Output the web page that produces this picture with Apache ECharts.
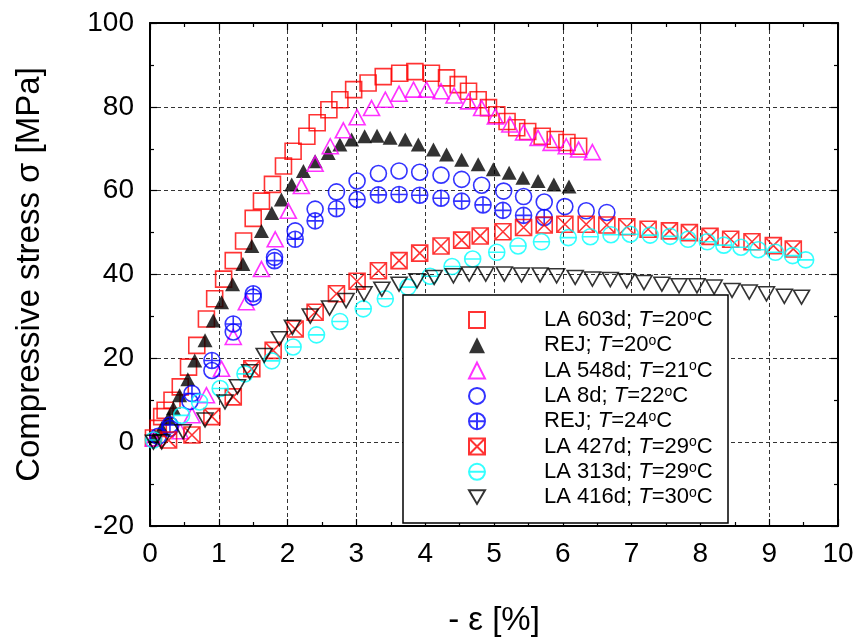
<!DOCTYPE html>
<html><head><meta charset="utf-8">
<script src="https://cdn.jsdelivr.net/npm/echarts@6/dist/echarts.min.js"></script>
<style>html,body{margin:0;padding:0;background:#fff}#c{width:857px;height:642px}</style>
</head><body><div id="c"></div>
<script>
// ---- data (strain -ε [%], stress σ [MPa]) ----
const la603x = [0.05,0.12,0.17,0.22,0.32,0.44,0.56,0.68,0.82,0.94,1.07,1.21,1.36,1.50,1.62,1.78,1.94,2.08,2.28,2.43,2.60,2.76,2.96,3.17,3.39,3.63,3.85,4.09,4.31,4.48,4.63,4.77,4.92,5.04,5.19,5.33,5.49,5.70,5.89,6.06,6.23];
const la603y = [1.0,3.3,6.1,7.6,10.0,13.2,17.9,23.1,29.4,34.2,38.9,43.3,48.0,53.4,57.5,61.5,65.9,69.4,73.0,76.2,79.3,81.7,84.1,85.7,87.2,88.0,88.4,88.0,86.9,85.3,83.7,81.7,79.8,78.1,76.5,75.0,74.1,73.0,72.2,71.5,70.6];

const rej20x = [0.07,0.17,0.27,0.34,0.43,0.55,0.65,0.80,0.92,1.04,1.20,1.35,1.48,1.62,1.77,1.91,2.06,2.23,2.40,2.59,2.76,2.93,3.12,3.30,3.49,3.71,3.90,4.12,4.31,4.53,4.77,4.99,5.22,5.42,5.64,5.87,6.09];
const rej20y = [1.4,3.3,5.7,8.1,11.2,15.0,19.5,24.3,29.0,33.4,37.7,42.5,46.8,50.4,54.7,57.9,61.5,64.7,67.0,69.0,71.0,72.2,73.0,73.1,72.6,72.2,71.0,69.8,68.6,67.4,66.3,65.1,64.3,63.1,62.3,61.5,61.0];

const la548x = [0.05,0.44,0.61,0.82,1.04,1.21,1.40,1.62,1.82,2.01,2.20,2.40,2.62,2.81,3.01,3.22,3.42,3.62,3.83,4.02,4.23,4.42,4.63,4.82,5.02,5.23,5.43,5.64,5.83,6.05,6.23,6.43];
const la548y = [0.9,2.6,6.4,11.2,17.5,25.1,33.4,41.3,48.4,55.2,61.1,66.4,70.6,74.4,77.5,79.7,81.7,83.1,84.1,84.1,83.7,82.7,81.3,79.7,77.7,75.8,73.9,72.6,71.4,70.6,69.8,69.2];

const la8x = [0.12,0.29,0.58,0.90,1.21,1.50,1.81,2.11,2.40,2.71,3.01,3.32,3.62,3.92,4.23,4.53,4.82,5.14,5.43,5.73,6.03,6.34,6.64];
const la8y = [1.4,3.3,9.7,17.1,26.3,34.6,44.1,50.4,55.6,59.7,62.3,64.1,64.7,64.4,63.7,62.7,61.3,59.9,58.6,57.3,56.2,55.2,54.8];

const rej24x = [0.29,0.61,0.90,1.21,1.50,1.81,2.11,2.40,2.71,3.01,3.32,3.62,3.92,4.23,4.53,4.84,5.13,5.43,5.73];
const rej24y = [4.1,11.6,19.5,28.2,35.4,43.3,48.4,52.8,55.7,57.9,59.0,59.1,58.9,58.2,57.5,56.6,55.3,54.1,53.6];

const la427x = [0.27,0.61,0.90,1.21,1.48,1.79,2.11,2.40,2.71,3.01,3.32,3.62,3.92,4.23,4.53,4.80,5.13,5.43,5.73,6.03,6.34,6.64,6.93,7.24,7.55,7.84,8.14,8.44,8.75,9.06,9.35];
const la427y = [0.5,1.7,6.1,10.8,17.5,21.9,27.0,31.0,35.4,38.4,40.9,43.3,45.1,46.8,48.2,49.2,50.2,51.2,51.8,52.0,52.0,51.8,51.4,50.8,50.4,50.0,49.1,48.4,47.8,46.9,46.1];

const la313x = [0.05,0.46,0.72,1.02,1.38,1.77,2.08,2.42,2.76,3.10,3.42,3.75,4.07,4.39,4.69,5.04,5.35,5.69,6.08,6.40,6.70,6.98,7.27,7.56,7.82,8.10,8.34,8.59,8.84,9.09,9.34,9.53];
const la313y = [0.5,6.4,9.6,12.8,16.3,19.4,22.7,25.6,28.8,31.8,34.2,37.0,39.6,41.9,43.7,45.3,46.8,47.8,48.8,49.0,49.5,49.6,49.4,49.1,48.4,47.8,47.0,46.5,45.9,45.3,44.5,43.5];

const la416x = [0.05,0.17,0.48,0.80,1.09,1.27,1.45,1.66,1.88,2.07,2.33,2.61,2.85,3.11,3.37,3.62,3.88,4.13,4.41,4.64,4.88,5.15,5.40,5.67,5.91,6.18,6.43,6.69,6.93,7.18,7.44,7.69,7.95,8.20,8.46,8.71,8.96,9.22,9.47];
const la416y = [0,0.1,2.5,5.3,9.6,13.2,16.8,20.7,24.7,27.4,30.1,32.0,33.8,35.4,36.5,37.7,38.5,39.3,39.7,40.1,40.1,40.1,39.9,39.9,39.7,39.3,38.9,38.8,38.5,38.1,37.7,37.3,37.3,37.0,36.2,35.8,35.4,34.8,34.6];

const samples = ['LA 603d','REJ','LA 548d','LA 8d','REJ','LA 427d','LA 313d','LA 416d'];
const temps = [20,20,21,22,24,29,29,30];
const xTicks = [0,1,2,3,4,5,6,7,8,9,10];
const yTicks = [-20,0,20,40,60,80,100];

// ---- styling ----
const FONT = '"Liberation Sans", Arial, Helvetica, sans-serif';
const names = samples.map((s,i)=> s + '; T=' + temps[i] + '°C');
const zip = (xs,ys)=> xs.map((x,i)=>[x,ys[i]]);

const SYM_CPLUS = 'path://M0,10A10,10,0,1,1,20,10A10,10,0,1,1,0,10ZM10,0L10,20M0,10L20,10';
const SYM_CMINUS = 'path://M0,10A10,10,0,1,1,20,10A10,10,0,1,1,0,10ZM0,10L20,10';
const SYM_SQX = 'path://M0,0L20,0L20,20L0,20ZM0,0L20,20M20,0L0,20';
const SYM_DOWN = 'path://M0,0L20,0L10,17Z';

const seriesDefs = [
  {x: la603x, y: la603y, symbol:'rect', size:16, color:'#ff0000', fill:false},
  {x: rej20x, y: rej20y, symbol:'triangle', size:[15,14], color:'#000000', fill:true},
  {x: la548x, y: la548y, symbol:'triangle', size:[16,15], color:'#ff00ff', fill:false},
  {x: la8x, y: la8y, symbol:'circle', size:16, color:'#0000ff', fill:false},
  {x: rej24x, y: rej24y, symbol:SYM_CPLUS, size:16, color:'#0000ff', fill:false},
  {x: la427x, y: la427y, symbol:SYM_SQX, size:16, color:'#ff0000', fill:false},
  {x: la313x, y: la313y, symbol:SYM_CMINUS, size:16, color:'#00ffff', fill:false},
  {x: la416x, y: la416y, symbol:SYM_DOWN, size:[16,14], color:'#000000', fill:false}
];

const series = seriesDefs.map((d,i)=>({
  type:'scatter',
  name: names[i],
  data: zip(d.x, d.y),
  symbol: d.symbol,
  symbolSize: d.size,
  clip: false,
  itemStyle: d.fill ? {color:d.color, borderWidth:0}
                    : {color:'rgba(255,255,255,0)', borderColor:d.color, borderWidth:1.6},
  emphasis:{disabled:true},
  z: 2
}));

const axisLineStyle = {color:'#000', width:2};
const tickStyle = {color:'#000', width:1.2};
const gridLine = {show:true, lineStyle:{color:'#333', type:[4,3], width:1}};

const chart = echarts.init(document.getElementById('c'), null, {renderer:'canvas'});
chart.setOption({
  animation:false,
  backgroundColor:'#fff',
  grid:{left:150, right:19, top:23, bottom:114},
  xAxis:[
    {type:'value', min:xTicks[0], max:xTicks[xTicks.length-1], interval:1, position:'bottom',
     axisLine:{show:true, onZero:false, lineStyle:axisLineStyle},
     axisTick:{show:true, inside:true, length:7, lineStyle:tickStyle},
     minorTick:{show:true, splitNumber:2, length:4, lineStyle:tickStyle},
     splitLine:gridLine,
     axisLabel:{fontSize:28, color:'#000', fontFamily:FONT, margin:14},
     name:'- ε [%]', nameLocation:'middle', nameGap:78,
     nameTextStyle:{fontSize:33, color:'#000', fontFamily:FONT}},
    {type:'value', min:xTicks[0], max:xTicks[xTicks.length-1], interval:1, position:'top',
     axisLine:{show:true, onZero:false, lineStyle:axisLineStyle},
     axisTick:{show:true, inside:true, length:7, lineStyle:tickStyle},
     minorTick:{show:true, splitNumber:2, length:4, lineStyle:tickStyle},
     splitLine:{show:false}, axisLabel:{show:false}}
  ],
  yAxis:[
    {type:'value', min:yTicks[0], max:yTicks[yTicks.length-1], interval:20, position:'left',
     axisLine:{show:true, onZero:false, lineStyle:axisLineStyle},
     axisTick:{show:true, inside:true, length:7, lineStyle:tickStyle},
     minorTick:{show:true, splitNumber:2, length:4, lineStyle:tickStyle},
     splitLine:gridLine,
     axisLabel:{fontSize:28, color:'#000', fontFamily:FONT, margin:16},
     name:'Compressive stress σ [MPa]', nameLocation:'middle', nameGap:104,
     nameTextStyle:{fontSize:33, color:'#000', fontFamily:FONT}},
    {type:'value', min:yTicks[0], max:yTicks[yTicks.length-1], interval:20, position:'right',
     axisLine:{show:true, onZero:false, lineStyle:axisLineStyle},
     axisTick:{show:true, inside:true, length:7, lineStyle:tickStyle},
     minorTick:{show:true, splitNumber:2, length:4, lineStyle:tickStyle},
     splitLine:{show:false}, axisLabel:{show:false}}
  ],
  graphic:{elements:[
    {type:'rect', shape:{x:403, y:295, width:325, height:228},
     style:{fill:'#fff', stroke:'#000', lineWidth:1.5}, z:3, silent:true}
  ]},
  legend:{
    orient:'vertical', left:468, top:309, padding:0,
    itemWidth:16, itemHeight:16, itemGap:3.3,
    selectedMode:false, z:10,
    data: names,
    formatter: (name)=>{
      const i = names.indexOf(name);
      return samples[i] + '; {i|T}=' + temps[i] + '{s|o}C';
    },
    textStyle:{fontFamily:FONT, fontSize:22, lineHeight:22, color:'#000', padding:[0,0,0,54],
      rich:{
        i:{fontFamily:FONT, fontSize:22, lineHeight:22, fontStyle:'italic', color:'#000'},
        s:{fontFamily:FONT, fontSize:14, lineHeight:14, color:'#000', verticalAlign:'top'}
      }}
  },
  series: series
});
</script></body></html>
